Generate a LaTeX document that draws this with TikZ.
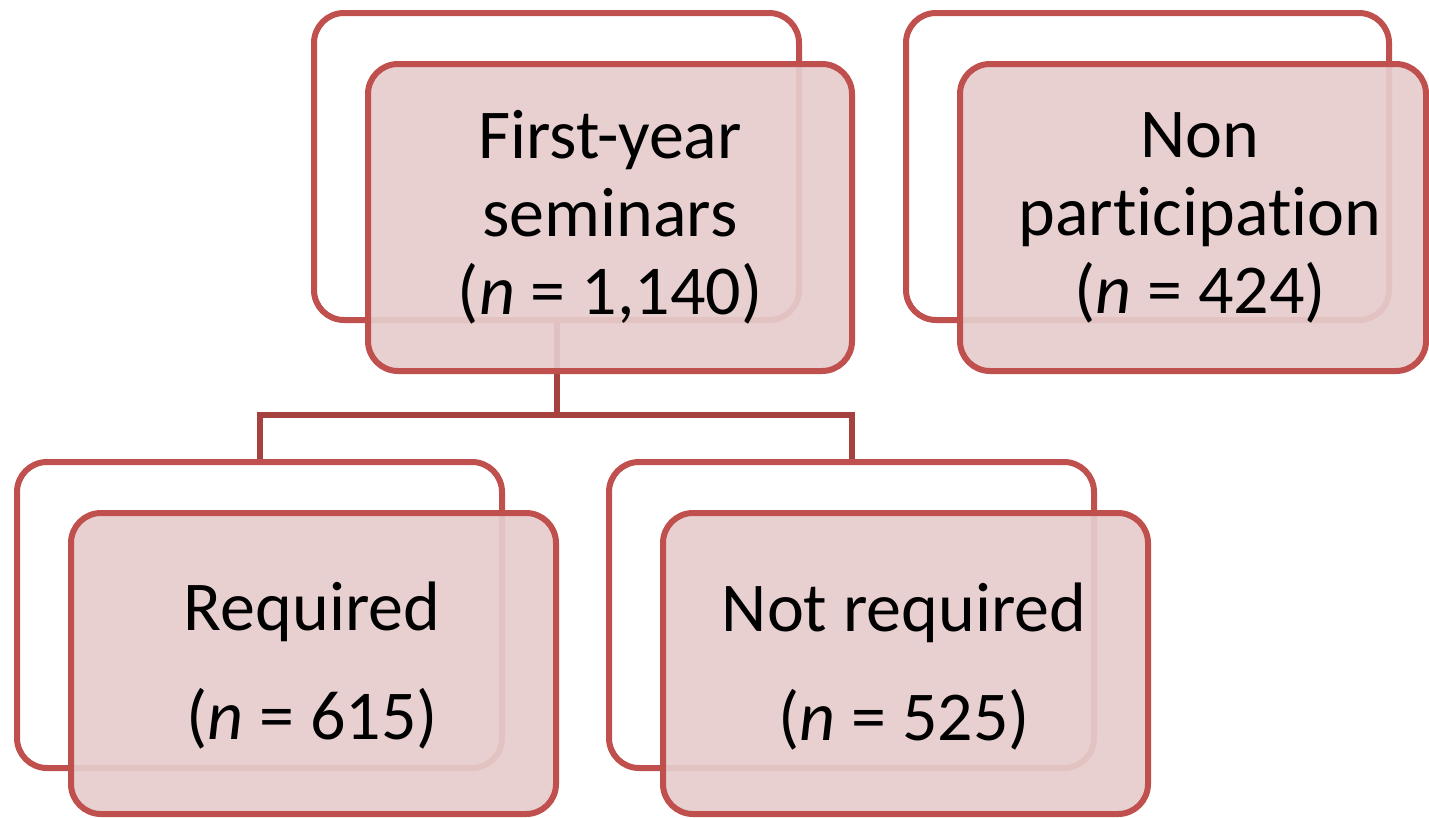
\documentclass[tikz,border=0pt]{standalone}
\usepackage{fontspec}
\setmainfont{Carlito}[Ligatures={NoCommon}]
\definecolor{boxline}{RGB}{192,80,77}
\definecolor{linkline}{RGB}{165,66,63}
\definecolor{boxfill}{RGB}{230,204,205}
\tikzset{
  backbox/.style={draw=boxline, line width=6pt, rounded corners=30pt, inner sep=0pt},
  frontbox/.style={draw=boxline, line width=6pt, rounded corners=30pt, fill=boxfill, fill opacity=0.92, draw opacity=1, inner sep=0pt},
  boxtext/.style={align=center, font=\fontsize{70}{78}\selectfont, inner sep=0pt, anchor=base},
  link/.style={draw=linkline, line width=6pt}
}
\begin{document}
\begin{tikzpicture}[x=1pt,y=-1pt]
\useasboundingbox (0,0) rectangle (1429,817);
% back boxes
\node[backbox, minimum width=485pt, minimum height=307pt] (tlb) at (556.5,166.5) {};
\node[backbox, minimum width=483pt, minimum height=307pt] (trb) at (1147.5,166.5) {};
\node[backbox, minimum width=485pt, minimum height=306pt] (blb) at (259.5,615) {};
\node[backbox, minimum width=485pt, minimum height=306pt] (brb) at (851.5,615) {};
% connectors
\coordinate (mid) at (0,415);
\draw[link] (tlb.south) -- (tlb.south |- mid);
\draw[link] (blb.north) -- (blb.north |- mid) -- (brb.north |- mid) -- (brb.north);
% front boxes
\node[frontbox, minimum width=484pt, minimum height=307pt] (tlf) at (610,217.5) {};
\node[frontbox, minimum width=466pt, minimum height=307pt] (trf) at (1193,217.5) {};
\node[frontbox, minimum width=485pt, minimum height=301pt] (blf) at (313.5,663.5) {};
\node[frontbox, minimum width=485pt, minimum height=301pt] (brf) at (905.5,663.5) {};
% texts (base anchor = baseline of the last line)
\node[boxtext] (tlt) at (610,314) {First-year\\seminars\\(\textit{n} = 1,140)};
\node[boxtext] (trt) at (1200,313) {Non\\participation\\(\textit{n} = 424)};
\node[boxtext] (blt) at (312,739) {Required\\[31pt](\textit{n} = 615)};
\node[boxtext] (brt) at (904,740) {Not required\\[31pt](\textit{n} = 525)};
\end{tikzpicture}
\end{document}
